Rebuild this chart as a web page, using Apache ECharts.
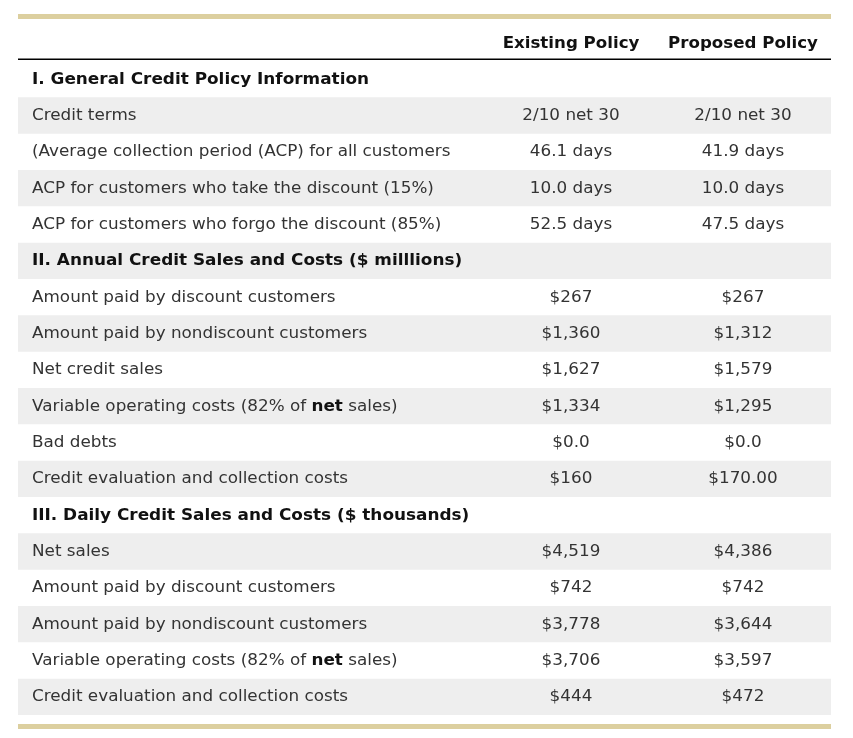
<!DOCTYPE html>
<html>
<head>
<meta charset="utf-8">
<script src="https://cdn.jsdelivr.net/npm/echarts@6/dist/echarts.min.js"></script>
<style>html,body{margin:0;padding:0;background:#fff}#c{width:853px;height:738px}</style>
</head>
<body>
<div id="c"></div>
<script>
// ---- data ----
var columnHeaders = ['Existing Policy', 'Proposed Policy'];
var rowLabels = [
  'I. General Credit Policy Information',
  'Credit terms',
  '(Average collection period (ACP) for all customers',
  'ACP for customers who take the discount (15%)',
  'ACP for customers who forgo the discount (85%)',
  'II. Annual Credit Sales and Costs ($ milllions)',
  'Amount paid by discount customers',
  'Amount paid by nondiscount customers',
  'Net credit sales',
  'Variable operating costs (82% of {nb|net} sales)',
  'Bad debts',
  'Credit evaluation and collection costs',
  'III. Daily Credit Sales and Costs ($ thousands)',
  'Net sales',
  'Amount paid by discount customers',
  'Amount paid by nondiscount customers',
  'Variable operating costs (82% of {nb|net} sales)',
  'Credit evaluation and collection costs'
];
var sectionRows = [true, false, false, false, false, true, false, false, false, false, false, false, true, false, false, false, false, false];
var existingValues = ['', '2/10 net 30', '46.1 days', '10.0 days', '52.5 days', '', '$267', '$1,360', '$1,627', '$1,334', '$0.0', '$160', '', '$4,519', '$742', '$3,778', '$3,706', '$444'];
var proposedValues = ['', '2/10 net 30', '41.9 days', '10.0 days', '47.5 days', '', '$267', '$1,312', '$1,579', '$1,295', '$0.0', '$170.00', '', '$4,386', '$742', '$3,644', '$3,597', '$472'];

// ---- rendering ----
var FONT = 'DejaVu Sans';
var SX = 1.12, SXB = 1.125, SXH = 1.11;
var rowIdx = rowLabels.map(function (_, i) { return i; });
var chart = echarts.init(document.getElementById('c'), null, { renderer: 'canvas' });

function renderRow(params, api) {
  var i = api.value(0);
  var cs = params.coordSys;
  var p = api.coord([0, i]);
  var h = api.size([0, 1])[1];
  var cy = p[1] + 0.5;
  var x0 = cs.x, w = cs.width;
  var children = [];
  if (i % 2 === 1) {
    children.push({ type: 'rect', shape: { x: x0, y: p[1] - h / 2, width: w, height: h }, style: { fill: '#eeeeee' } });
  }
  var isSec = sectionRows[i];
  children.push({
    type: 'text',
    x: x0 + 14, y: cy, scaleX: isSec ? SXB : SX,
    style: {
      x: 0, y: 0, text: rowLabels[i],
      fontFamily: FONT, fontSize: 15, fontWeight: isSec ? 'bold' : 'normal',
      fill: isSec ? '#111' : '#333',
      verticalAlign: 'middle', align: 'left',
      rich: { nb: { fontWeight: 'bold', fontSize: 15, fontFamily: FONT, fill: '#111' } }
    }
  });
  [existingValues[i], proposedValues[i]].forEach(function (v, k) {
    children.push({
      type: 'text',
      x: x0 + (k === 0 ? 553 : 725), y: cy, scaleX: SX,
      style: {
        x: 0, y: 0, text: v,
        fontFamily: FONT, fontSize: 15, fill: '#333', align: 'center', verticalAlign: 'middle'
      }
    });
  });
  return { type: 'group', children: children };
}

chart.setOption({
  animation: false,
  grid: { left: 18, right: 22, top: 61, bottom: 23 },
  xAxis: { type: 'value', min: 0, max: 1, show: false },
  yAxis: { type: 'category', data: rowIdx, inverse: true, show: false },
  graphic: [
    { type: 'rect', left: 18, top: 14, shape: { width: 813, height: 5 }, style: { fill: '#dccf9f' } },
    { type: 'rect', left: 18, top: 724, shape: { width: 813, height: 5 }, style: { fill: '#dccf9f' } },
    { type: 'rect', left: 18, top: 58.5, shape: { width: 813, height: 1.5 }, style: { fill: '#000' } },
    { type: 'text', x: 571, y: 44, scaleX: SXH, style: { x: 0, y: 0, text: columnHeaders[0], fontFamily: FONT, fontSize: 15, fontWeight: 'bold', fill: '#111', align: 'center', verticalAlign: 'middle' } },
    { type: 'text', x: 743, y: 44, scaleX: SXH, style: { x: 0, y: 0, text: columnHeaders[1], fontFamily: FONT, fontSize: 15, fontWeight: 'bold', fill: '#111', align: 'center', verticalAlign: 'middle' } }
  ],
  series: [{
    type: 'custom',
    renderItem: renderRow,
    data: rowIdx.map(function (i) { return [i]; }),
    encode: { y: 0 },
    silent: true
  }]
});
</script>
</body>
</html>
